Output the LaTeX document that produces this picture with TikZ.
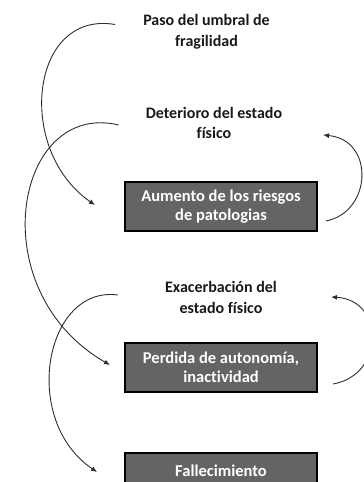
\documentclass[tikz,border=0pt]{standalone}
\usepackage{fontspec}
\setmainfont{Carlito}[Ligatures=CommonOff]
\usepackage{tikz}
\usetikzlibrary{arrows.meta,positioning}
\definecolor{boxGray}{RGB}{100,100,100}
\definecolor{lineGray}{RGB}{45,45,45}
\definecolor{txtDark}{RGB}{25,25,25}

\begin{document}
\begin{tikzpicture}[x=1pt,y=-1pt,
    stage/.style={text=txtDark, font=\fontsize{16}{20.5}\selectfont\bfseries, align=center, inner sep=0pt},
    stagebox/.style={draw=black, line width=2pt, fill=boxGray, text=white, align=center,
        minimum width=192pt, minimum height=49pt, inner sep=0pt, font=\fontsize{16.5}{19.5}\selectfont\bfseries},
    flow/.style={lineGray, line width=0.9pt, -{Latex[length=6pt,width=5pt]}}]
    \useasboundingbox (0,0) rectangle (364,482);
    \clip (0,0) rectangle (364,482);

    % labels
    \node[stage] (paso) at (206.5,31.5) {Paso del umbral de\\fragilidad};
    \node[stage] (deterioro) at (214,123) {Deterioro del estado\\físico};
    \node[stage] (exacerb) at (221,297.5) {Exacerbación del\\estado físico};

    % boxes
    \node[stagebox] (aumento) at (221,206.5) {Aumento de los riesgos\\de patologias};
    \node[stagebox] (perdida) at (221,367.5) {Perdida de autonomía,\\inactividad};
    \node[stagebox, minimum height=35pt] (fallec) at (221,470.5) {Fallecimiento};

    % left loops
    \draw[flow] ([xshift=-28pt,yshift=7pt]paso.west)
        .. controls (30,10) and (15,150) .. ([xshift=-29pt,yshift=1.5pt]aumento.west);
    \draw[flow] ([xshift=-27pt,yshift=-2pt]deterioro.west)
        .. controls (15,100) and (-20,290) .. ([xshift=-14pt,yshift=2.5pt]perdida.west);
    \draw[flow] ([xshift=-47pt,yshift=2.5pt]exacerb.west)
        .. controls (45,285) and (20,420) .. ([xshift=-27pt,yshift=-1.5pt]fallec.west);

    % right loops
    \draw[flow] ([xshift=8pt,yshift=-14.5pt]aumento.east)
        .. controls (372,212) and (375,140) .. ([xshift=5pt,yshift=46pt]aumento.north east);
    \draw[flow] ([xshift=15pt,yshift=-16.5pt]perdida.east)
        .. controls (385,375) and (385,300) .. ([xshift=13pt,yshift=45pt]perdida.north east);
\end{tikzpicture}
\end{document}
